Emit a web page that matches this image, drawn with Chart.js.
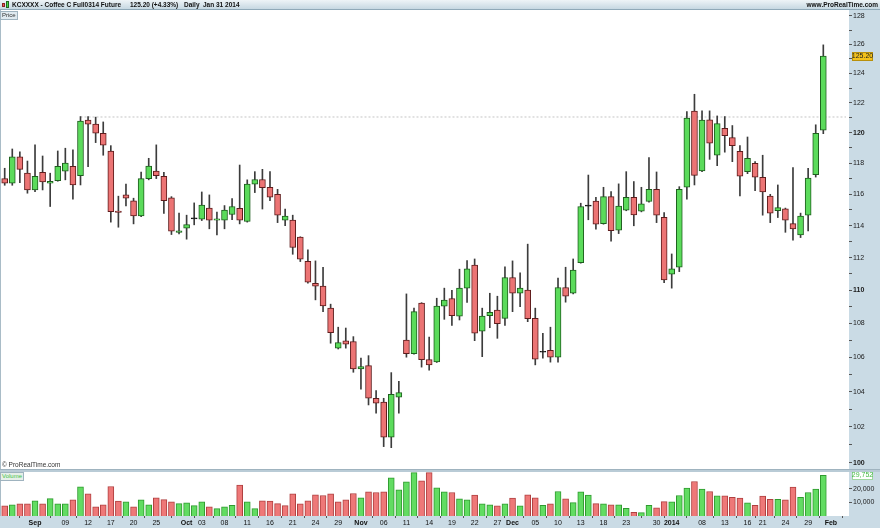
<!DOCTYPE html>
<html>
<head>
<meta charset="utf-8">
<script src="https://cdn.jsdelivr.net/npm/chart.js@4.4.1/dist/chart.umd.min.js"></script>
<style>
  html, body { margin: 0; padding: 0; }
  body { width: 880px; height: 528px; position: relative; overflow: hidden; background: #cadbe5; font-family: "Liberation Sans", Arial, sans-serif; }
  .pane { position: absolute; background: #fff; }
  #pricePane { left: 0; top: 10px; width: 849px; height: 459px; border-left: 1px solid #a9bcc7; box-sizing: border-box; }
  #volPane { left: 0; top: 472px; width: 849px; height: 44px; border-left: 1px solid #a9bcc7; box-sizing: border-box; }
  #sep { position: absolute; left: 0; top: 469px; width: 880px; height: 3px; background: #b9cbd6; border-top: 1px solid #9fb3bf; box-sizing: border-box; }
  canvas { position: absolute; left: 0; }
  #header { position: absolute; left: 0; top: 0; width: 880px; height: 10px; background: linear-gradient(#eef4f7, #c6d8e2); border-bottom: 1px solid #8fa9b8; box-sizing: border-box; font-size: 6.5px; font-weight: bold; color: #111; }
  #header span { position: absolute; top: 1px; line-height: 8px; white-space: pre; }
  .tag { position: absolute; font-size: 6px; line-height: 7px; padding: 0 1px; border: 1px solid #9fb3bf; }
  #copy { position: absolute; left: 2px; top: 461px; font-size: 6.5px; color: #333; }
</style>
</head>
<body>
<div class="pane" id="pricePane"></div>
<div id="sep"></div>
<div class="pane" id="volPane"></div>
<canvas id="price" width="880" height="459" style="top:10px"></canvas>
<canvas id="volume" width="880" height="56" style="top:472px"></canvas>
<div id="header">
  <div style="position:absolute;left:2px;top:3px;width:3px;height:4px;background:#e55;border:1px solid #822;box-sizing:border-box"></div>
  <div style="position:absolute;left:6px;top:1px;width:3px;height:7px;background:#4d4;border:1px solid #262;box-sizing:border-box"></div>
  <span style="left:12px">KCXXXX - Coffee C Full0314 Future</span>
  <span style="left:130px">125.20 (+4.33%)</span>
  <span style="left:184px">Daily</span>
  <span style="left:203px">Jan 31 2014</span>
  <span style="right:2px">www.ProRealTime.com</span>
</div>
<div class="tag" style="left:0;top:11px;background:#dfe9ef;color:#333">Price</div>
<div class="tag" style="left:0;top:472px;background:#e6efe9;color:#44c244">Volume</div>
<div id="copy">© ProRealTime.com</div>

<script>
// trading sessions, 27 Aug 2013 to 31 Jan 2014
const dates = [
  '08/27','08/28','08/29','08/30',
  '09/03','09/04','09/05','09/06','09/09','09/10','09/11','09/12','09/13','09/16','09/17','09/18','09/19','09/20','09/23','09/24','09/25','09/26','09/27','09/30',
  '10/01','10/02','10/03','10/04','10/07','10/08','10/09','10/10','10/11','10/14','10/15','10/16','10/17','10/18','10/21','10/22','10/23','10/24','10/25','10/28','10/29','10/30','10/31',
  '11/01','11/04','11/05','11/06','11/07','11/08','11/11','11/12','11/13','11/14','11/15','11/18','11/19','11/20','11/21','11/22','11/25','11/26','11/27','11/29',
  '12/02','12/03','12/04','12/05','12/06','12/09','12/10','12/11','12/12','12/13','12/16','12/17','12/18','12/19','12/20','12/23','12/24','12/26','12/27','12/30','12/31',
  '01/02','01/03','01/06','01/07','01/08','01/09','01/10','01/13','01/14','01/15','01/16','01/17','01/21','01/22','01/23','01/24','01/27','01/28','01/29','01/30','01/31'
];
const futureDates = ['02/03', '02/04'];

const opens = [117.00,116.70,118.41,117.35,116.27,117.41,116.70,116.87,117.48,117.80,117.19,120.84,120.57,119.97,118.80,114.92,115.95,115.57,114.62,117.00,
  117.49,117.15,115.76,113.58,113.84,114.43,114.41,115.11,114.35,114.35,114.70,115.09,114.26,116.64,116.94,116.44,115.99,114.35,114.35,113.28,
  111.78,110.43,110.25,108.92,106.54,106.97,106.93,105.33,105.52,103.63,103.41,101.43,103.69,107.01,106.22,109.22,105.87,105.73,109.04,109.50,
  108.44,110.13,111.55,107.54,108.47,108.80,108.31,110.78,109.82,110.02,108.31,106.30,106.41,106.01,110.17,109.82,111.69,115.23,115.55,114.13,
  115.84,113.71,114.98,115.80,114.92,115.53,116.31,114.53,110.99,111.41,116.44,121.44,117.49,120.86,118.52,120.30,119.68,118.78,117.45,117.99,
  117.09,115.87,114.94,115.06,114.13,113.42,114.66,117.25,120.17];
const highs = [117.67,118.93,118.75,118.14,119.20,118.47,117.35,118.80,118.98,118.87,121.08,121.08,121.04,120.72,119.15,115.87,116.64,115.74,117.43,118.32,
  119.20,117.41,115.84,114.79,114.66,115.44,116.14,115.95,114.85,115.27,115.72,117.88,116.92,117.45,117.60,117.45,116.31,115.05,114.66,113.30,
  112.48,111.80,111.41,109.16,107.78,107.73,107.22,105.95,106.10,104.07,103.63,105.11,104.61,109.78,108.93,109.25,107.20,109.52,110.13,110.00,
  111.29,111.82,111.92,108.92,109.82,109.64,111.43,111.80,111.06,112.84,108.92,107.42,107.78,110.74,111.41,111.92,115.42,117.23,115.80,116.44,
  116.16,116.66,117.45,116.81,116.44,118.36,117.43,114.83,112.23,116.48,121.41,122.58,121.46,121.46,121.12,121.08,120.48,119.15,119.72,118.10,
  118.52,115.99,116.59,115.11,117.71,114.79,117.67,120.53,125.97];
const lows = [116.57,116.57,116.74,116.06,116.16,116.27,115.21,116.83,116.92,115.68,116.59,117.77,119.35,118.52,114.22,113.90,115.25,114.11,114.57,116.92,
  117.00,114.77,113.44,113.48,113.15,114.05,114.32,113.80,113.42,113.80,114.37,114.11,114.22,116.10,115.05,115.59,114.19,113.99,112.21,111.76,
  110.43,109.42,108.71,106.83,106.49,106.54,105.13,104.15,103.25,102.78,100.90,100.84,102.78,106.01,106.18,105.43,105.25,105.70,108.25,107.89,
  108.21,109.26,106.98,106.04,107.75,107.12,107.89,108.71,109.01,108.11,105.56,105.95,105.72,105.72,109.28,109.78,111.66,114.37,113.78,114.09,
  113.03,113.50,114.94,113.99,114.87,115.49,114.19,110.47,110.13,111.14,115.68,116.59,117.45,118.25,117.84,118.72,118.10,115.89,117.32,116.22,
  114.66,114.19,114.51,113.58,113.09,113.25,113.67,117.10,119.94];
const closes = [116.70,118.41,117.60,116.27,117.15,116.79,116.82,117.80,118.01,116.59,120.78,120.57,119.97,119.18,114.89,114.83,115.74,114.62,117.00,117.82,
  117.19,115.59,113.65,113.68,114.07,114.43,115.30,114.35,114.43,114.98,115.21,114.35,116.64,116.94,116.42,115.80,114.66,114.60,112.63,111.90,
  110.49,110.25,109.06,107.46,106.87,106.77,105.33,105.46,103.63,103.35,101.43,103.86,103.95,106.22,108.71,105.87,105.56,109.04,109.40,108.47,
  110.13,111.31,107.42,108.45,108.67,107.99,110.78,109.82,110.13,108.29,105.89,106.30,106.01,110.17,109.64,111.23,115.21,115.23,114.09,115.84,
  113.69,115.23,115.80,114.68,115.38,116.31,114.66,110.63,111.31,116.31,120.97,117.21,120.84,119.31,120.61,119.81,119.15,117.15,118.32,117.09,
  116.14,114.79,115.14,114.35,113.80,114.60,117.04,119.97,125.20];
const volumes = [7350,8085,8820,8820,11025,8820,12700,8820,8820,11760,21300,16170,6615,8085,21550,10800,10290,6615,11760,8085,
  13230,12000,10290,9040,9555,7570,10290,6615,5390,6615,7840,22540,10290,5390,11025,10800,9040,7570,16170,8820,
  11025,15435,14950,16170,10290,11760,16400,13230,17640,17150,17640,27930,19110,25000,31600,25725,31600,20580,17640,17150,
  12500,11760,15190,8820,8085,7350,8820,13000,7350,15435,13230,7840,8820,17900,12500,9800,17640,15190,9040,8820,
  8085,8085,5640,2700,2450,7840,5880,10500,10290,14950,20350,25200,19600,17900,14700,14700,13700,13000,9555,7840,
  14460,12250,12250,11760,21100,13700,17150,19600,29752];

const priceTicks = [100,101,102,103,104,105,106,107,108,109,110,111,112,113,114,115,116,117,118,119,120,121,122,123,124,125,126,127,128];
const volumeTicks = [10000, 20000];
const tickDates = ['09/03','09/09','09/12','09/17','09/20','09/25','10/01','10/03','10/08','10/11','10/16','10/21','10/24','10/29',
  '11/01','11/06','11/11','11/14','11/19','11/22','11/27','12/02','12/05','12/10','12/13','12/18','12/23','12/30',
  '01/02','01/08','01/13','01/16','01/21','01/24','01/29','02/03'];
const tickTexts = ['Sep','09','12','17','20','25','Oct','03','08','11','16','21','24','29',
  'Nov','06','11','14','19','22','27','Dec','05','10','13','18','23','30',
  '2014','08','13','16','21','24','29','Feb'];

// previous high line
const refLevel = 121.05;
const refFrom = '09/11';

const FONT = '"Liberation Sans", Arial, sans-serif';
const GREEN = '#5bdb5b', GREEN_EDGE = '#1e5e1e';
const RED = '#ec7474', RED_EDGE = '#5e1c1c';
const DOJI = '#111';
const VGREEN = '#62dc62', VGREEN_EDGE = '#2f9a2f';
const VRED = '#ee7878', VRED_EDGE = '#b04040';

const allDates = dates.concat(futureDates);
const idx = dates.map((d, i) => i);
const xMin = -0.62, xMax = 111.39;

const bodyFill = idx.map(i => closes[i] > opens[i] ? GREEN : closes[i] < opens[i] ? RED : DOJI);
const bodyEdge = idx.map(i => closes[i] > opens[i] ? GREEN_EDGE : closes[i] < opens[i] ? RED_EDGE : DOJI);
const volUp = idx.map(i => i > 0 && closes[i] >= closes[i - 1]);

// value boxes on the right axis
const lastBox = {
  id: 'lastBox',
  afterDraw(chart, args, opts) {
    const { ctx, chartArea } = chart;
    const y = Math.round(chart.scales.y.getPixelForValue(opts.value));
    ctx.save();
    ctx.fillStyle = opts.bg;
    ctx.strokeStyle = opts.edge;
    ctx.lineWidth = 1;
    ctx.fillRect(chartArea.right + 3, y - 4, 21, 9);
    ctx.strokeRect(chartArea.right + 3.5, y - 3.5, 20, 8);
    ctx.fillStyle = opts.color;
    ctx.font = '7px ' + FONT;
    ctx.textAlign = 'center';
    ctx.textBaseline = 'middle';
    ctx.fillText(opts.text, chartArea.right + 13.5, y + 0.5);
    ctx.restore();
  }
};

new Chart(document.getElementById('price'), {
  type: 'bar',
  data: {
    datasets: [
      {
        data: idx.map(i => ({ x: i, y: [opens[i], closes[i]] })),
        backgroundColor: bodyFill, borderColor: bodyEdge, borderWidth: 1, borderSkipped: false,
        barThickness: 6, minBarLength: 1, grouped: false, order: 0
      },
      {
        data: idx.map(i => ({ x: i, y: [lows[i], highs[i]] })),
        backgroundColor: '#3c3c3c', borderWidth: 0, barThickness: 1, grouped: false, order: 1
      },
      {
        type: 'line',
        data: [{ x: dates.indexOf(refFrom), y: refLevel }, { x: allDates.length, y: refLevel }],
        borderColor: '#c4c4c4', borderWidth: 1, borderDash: [2, 2], pointRadius: 0, order: 2
      }
    ]
  },
  options: {
    responsive: false, animation: false, events: [], devicePixelRatio: 1,
    layout: { padding: 0 },
    plugins: {
      legend: { display: false }, tooltip: { enabled: false },
      lastBox: { value: closes[closes.length - 1], text: closes[closes.length - 1].toFixed(2), bg: '#f3c21c', edge: '#b8900c', color: '#222' }
    },
    scales: {
      x: { type: 'linear', min: xMin, max: xMax, offset: false, display: false },
      y: {
        type: 'logarithmic', position: 'right', min: 99.66, max: 128.42, bounds: 'data',
        afterBuildTicks: s => { s.ticks = priceTicks.map(v => ({ value: v })); },
        afterFit: s => { s.width = 31; s.paddingTop = 0; s.paddingBottom = 0; },
        grid: { drawOnChartArea: false, tickLength: 3, color: '#555' },
        border: { display: false },
        ticks: {
          autoSkip: false, padding: 1, color: '#1a1a1a',
          font: c => ({ family: FONT, size: 7, weight: c.tick && c.tick.value % 10 === 0 ? 'bold' : 'normal' }),
          callback: v => v % 2 === 0 ? String(v) : ''
        }
      }
    }
  },
  plugins: [lastBox]
});

new Chart(document.getElementById('volume'), {
  type: 'bar',
  data: {
    datasets: [{
      data: idx.map(i => ({ x: i, y: volumes[i] })),
      backgroundColor: idx.map(i => volUp[i] ? VGREEN : VRED),
      borderColor: idx.map(i => volUp[i] ? VGREEN_EDGE : VRED_EDGE),
      borderWidth: 1, borderSkipped: 'bottom', barThickness: 6
    }]
  },
  options: {
    responsive: false, animation: false, events: [], devicePixelRatio: 1,
    layout: { padding: 0 },
    plugins: {
      legend: { display: false }, tooltip: { enabled: false },
      lastBox: { value: volumes[volumes.length - 1], text: volumes[volumes.length - 1].toLocaleString('en-US'), bg: '#fff', edge: '#9fd69f', color: '#44bb44' }
    },
    scales: {
      x: {
        type: 'linear', min: xMin, max: xMax, offset: false, position: 'bottom',
        afterBuildTicks: s => { s.ticks = tickDates.map(d => ({ value: allDates.indexOf(d) })); },
        afterFit: s => { s.height = 12; s.paddingLeft = 0; s.paddingRight = 0; },
        grid: { drawOnChartArea: false, tickLength: 2, color: '#555' },
        border: { display: false },
        ticks: {
          autoSkip: false, maxRotation: 0, padding: 1, color: '#111',
          font: c => {
            const t = tickTexts[c.index] || '';
            return { family: FONT, size: 7, weight: (isNaN(t) || t.length === 4) ? 'bold' : 'normal' };
          },
          callback: (v, i) => tickTexts[i]
        }
      },
      y: {
        position: 'right', min: 0, max: 32100,
        afterBuildTicks: s => { s.ticks = volumeTicks.map(v => ({ value: v })); },
        afterFit: s => { s.width = 31; s.paddingTop = 0; s.paddingBottom = 0; },
        grid: { drawOnChartArea: false, tickLength: 3, color: '#555' },
        border: { display: false },
        ticks: { padding: 1, color: '#1a1a1a', font: { family: FONT, size: 7 }, callback: v => v.toLocaleString('en-US') }
      }
    }
  },
  plugins: [lastBox]
});
</script>
</body>
</html>
